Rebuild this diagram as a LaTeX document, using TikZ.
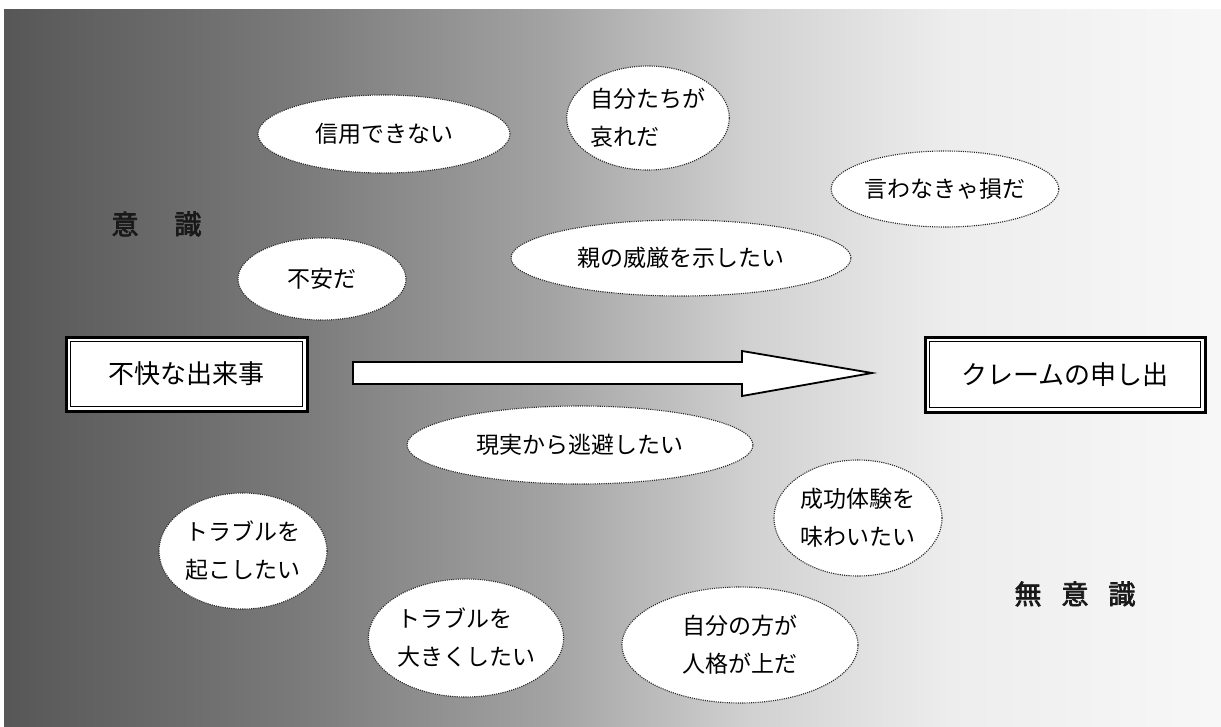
\documentclass[tikz,border=0pt]{standalone}
\usepackage{fontspec}
\newfontfamily\jp{Noto Sans CJK JP}
\newfontfamily\jpb[FakeBold=2.5]{Noto Sans CJK JP}
\usetikzlibrary{shapes.geometric}
\definecolor{g0}{gray}{0.34}
\definecolor{g1}{gray}{0.48}
\definecolor{g2}{gray}{0.64}
\definecolor{g3}{gray}{0.82}
\definecolor{g4}{gray}{0.93}
\definecolor{g5}{gray}{0.97}
\tikzset{
  thought/.style={ellipse, draw=black!85, line width=1.1pt, dash pattern=on 1.1pt off 1.1pt, fill=white, inner sep=0pt, align=left, font=\jp\fontsize{23}{38}\selectfont},
  eventbox/.style={rectangle, draw=black, line width=3pt, fill=white, inner sep=0pt, font=\jp\fontsize{26}{30}\selectfont},
  innerframe/.style={draw=black, line width=1.2pt},
  layer/.style={font=\jpb\fontsize{27}{30}\selectfont, text=black!90},
  bigarrow/.style={draw=black, line width=1.8pt, fill=white, line join=miter}
}
\begin{document}
\begin{tikzpicture}[x=1pt,y=-1pt]
\useasboundingbox (0,0) rectangle (1221,726);
\fill[white] (0,0) rectangle (1221,726);
% background gradient
\shade[left color=g0, right color=g1] (4,9) rectangle (300.5,726);
\shade[left color=g1, right color=g2] (300,9) rectangle (550.5,726);
\shade[left color=g2, right color=g3] (550,9) rectangle (750.5,726);
\shade[left color=g3, right color=g4] (750,9) rectangle (950.5,726);
\shade[left color=g4, right color=g5] (950,9) rectangle (1221,726);

% thought ellipses
\node[thought, minimum width=252pt, minimum height=78pt] (t1) at (384,134) {信用できない};
\node[thought, minimum width=152pt, minimum height=104pt] (t2) at (648,118) {自分たちが\\哀れだ};
\node[thought, minimum width=192pt, minimum height=76pt] (t3) at (945,189) {言わなきゃ損だ};
\node[thought, minimum width=168pt, minimum height=82pt] (t4) at (322,279) {不安だ};
\node[thought, minimum width=340pt, minimum height=76pt] (t5) at (681,258) {親の威厳を示したい};
\node[thought, minimum width=346pt, minimum height=78pt] (t6) at (580,445) {現実から逃避したい};
\node[thought, minimum width=168pt, minimum height=116pt] (t7) at (858,518) {成功体験を\\味わいたい};
\node[thought, minimum width=168pt, minimum height=116pt] (t8) at (243,551) {トラブルを\\起こしたい};
\node[thought, minimum width=172pt, minimum height=118pt] (t9) at (466,638) {トラブルを\\大きくしたい};
\node[thought, minimum width=236pt, minimum height=116pt] (t10) at (740,645) {自分の方が\\人格が上だ};

% event boxes
\node[eventbox, minimum width=241pt, minimum height=74pt] (ev) at (186.5,374) {不快な出来事};
\draw[innerframe] ([xshift=6pt,yshift=-6pt]ev.north west) rectangle ([xshift=-6pt,yshift=6pt]ev.south east);
\node[eventbox, minimum width=280pt, minimum height=75pt] (cl) at (1065,374.5) {クレームの申し出};
\draw[innerframe] ([xshift=6pt,yshift=-6pt]cl.north west) rectangle ([xshift=-6pt,yshift=6pt]cl.south east);

% block arrow
\draw[bigarrow] (353,362) -- (742,362) -- (742,351) -- (872,373) -- (742,396) -- (742,384) -- (353,384) -- cycle;

% layer labels
\node[layer, anchor=west] (con1) at (108,224) {意};
\node[layer, anchor=west] (con2) at (171,224) {識};
\node[layer, anchor=west] (unc) at (1011,594) {無\hspace{20pt}意\hspace{20pt}識};
\end{tikzpicture}
\end{document}
